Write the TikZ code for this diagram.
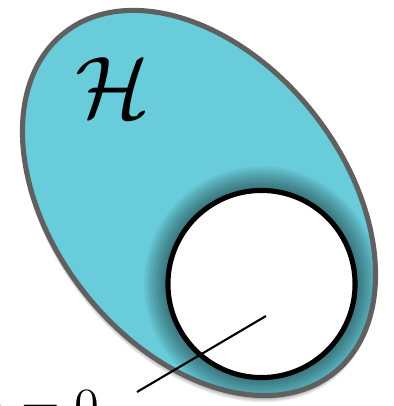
\documentclass[tikz,border=0pt]{standalone}
\usepackage{amsmath}
\usetikzlibrary{calc}
\definecolor{hcyan}{RGB}{104,204,218}
\definecolor{hgray}{RGB}{96,96,96}
\tikzset{
  hspace/.style={fill=hcyan},
  hborder/.style={draw=hgray,line width=1.45pt},
  kernelbox/.style={circle,draw=black,fill=white,line width=1.45pt,minimum size=1.87cm,inner sep=0pt},
  pointer/.style={draw=black,line width=0.6pt}
}
\begin{document}
\begin{tikzpicture}[x=0.01cm,y=0.01cm]
\useasboundingbox (0,0) rectangle (393,406);
\clip (0,0) rectangle (393,406);
\coordinate (ec) at (199,203);
\coordinate (kc) at (261.5,122);
% soft shadow of the space
\foreach \s in {1,...,6}
  \fill[black,opacity=0.07,rotate around={-51.6:(ec)}] ($(ec)+(\s*0.8,-\s*0.8)$) ellipse (217 and 145.5);
\fill[hspace,rotate around={-51.6:(ec)}] (ec) ellipse (217 and 145.5);
% glow round the kernel
\begin{scope}
\clip[rotate around={-51.6:(ec)}] (ec) ellipse (217 and 145.5);
\foreach \r in {1,...,12}
  \fill[black,opacity=0.045] (kc) circle (93.5+2*\r);
\end{scope}
\draw[hborder,rotate around={-51.6:(ec)}] (ec) ellipse (217 and 145.5);
\node (H) at (113,318) {\fontsize{25}{30}\selectfont$\mathcal{H}$};
\node[kernelbox] (kernel) at (kc) {};
\coordinate (tip) at (266,90);
\coordinate (foot) at (137,14);
\node[anchor=base east,inner sep=0pt] (eq) at (100,-18) {\fontsize{14}{17}\selectfont$\rangle = 0$};
\draw[pointer] (tip) -- (foot);
\end{tikzpicture}
\end{document}
